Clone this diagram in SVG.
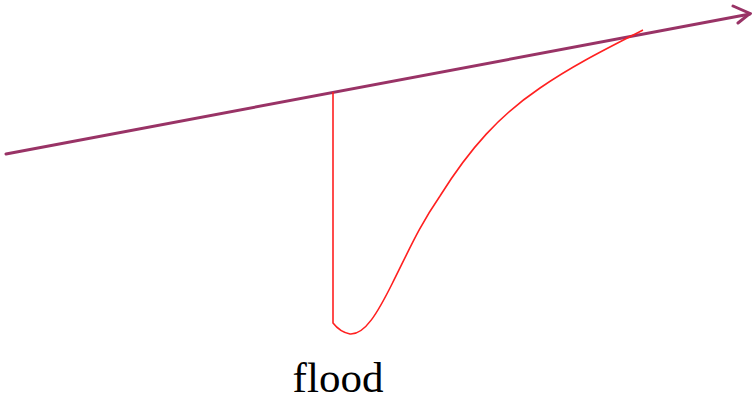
<svg xmlns="http://www.w3.org/2000/svg" width="752" height="402" viewBox="0 0 752 402">
<style>
.axis{stroke:#993366;stroke-width:3;fill:none;stroke-linecap:round}
.hyd{stroke:#ff2020;stroke-width:1.6;fill:none}
.lbl{font-family:"Liberation Serif",serif;font-size:43px;fill:#000}
</style>
<rect width="752" height="402" fill="#fff"/>
<g id="connectors">
<path class="axis" d="M6,154 L750,14"/>
<path class="axis" d="M733,6 L750,13.5 L738,23"/>
</g>
<g id="hydrograph">
<path class="hyd" d="M333,92 L333,323 Q340,332 350,334 C365,335 378,312 392,284 C410,248 420,225 440,196 C470,148 500,115 540,88 C575,64 610,47 643,30"/>
</g>
<g id="label">
<text class="lbl" x="338" y="392" text-anchor="middle">flood</text>
</g>
</svg>
